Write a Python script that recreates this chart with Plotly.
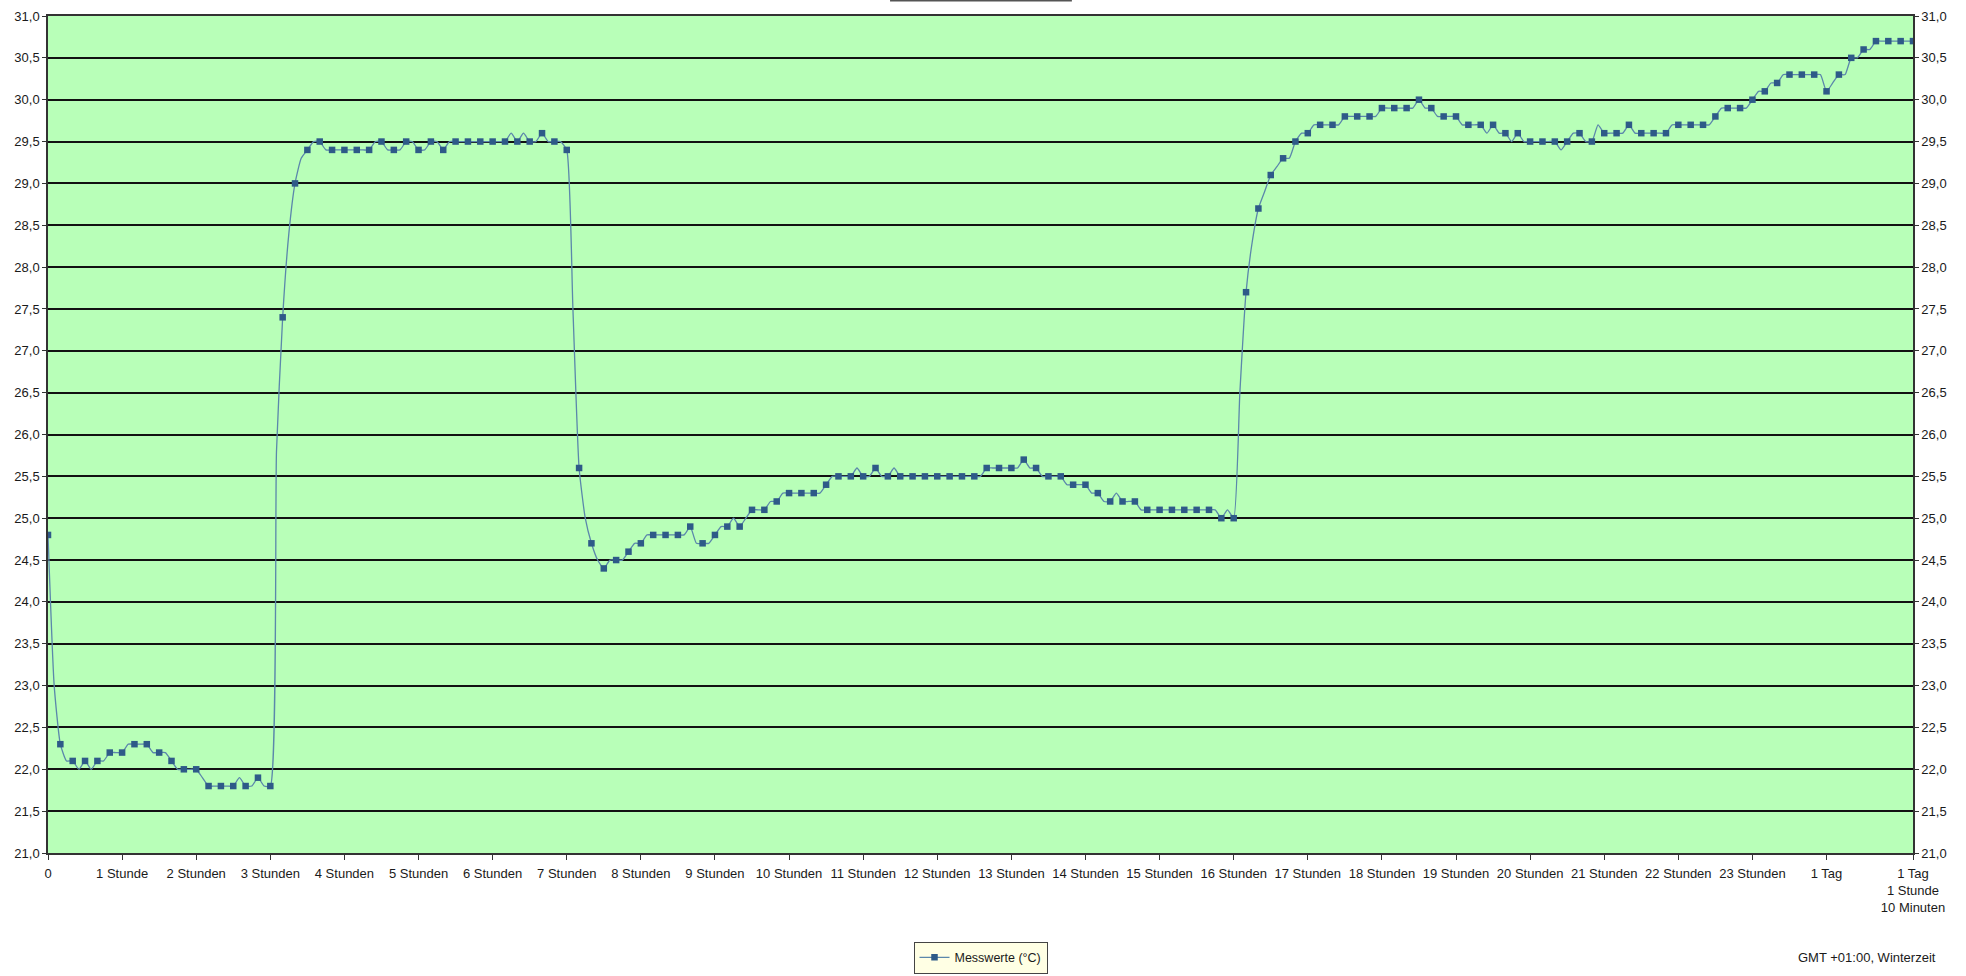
import plotly.graph_objects as go

# Sampling: one reading every 5 minutes, from 0 to 1510 minutes (1 Tag 1 Stunde 10 Minuten)
SAMPLE_STEP_MIN = 5

# Temperature readings (°C), one row per hour (12 readings of 5 minutes each)
temps_c = [
    24.8, 23.0, 22.3, 22.1, 22.1, 22.0, 22.1, 22.0, 22.1, 22.1, 22.2, 22.2,   # 0 h
    22.2, 22.3, 22.3, 22.3, 22.3, 22.2, 22.2, 22.2, 22.1, 22.0, 22.0, 22.0,   # 1 h
    22.0, 21.9, 21.8, 21.8, 21.8, 21.8, 21.8, 21.9, 21.8, 21.8, 21.9, 21.8,   # 2 h
    21.8, 25.8, 27.4, 28.4, 29.0, 29.3, 29.4, 29.5, 29.5, 29.4, 29.4, 29.4,   # 3 h
    29.4, 29.4, 29.4, 29.4, 29.4, 29.5, 29.5, 29.4, 29.4, 29.4, 29.5, 29.5,   # 4 h
    29.4, 29.4, 29.5, 29.5, 29.4, 29.5, 29.5, 29.5, 29.5, 29.5, 29.5, 29.5,   # 5 h
    29.5, 29.5, 29.5, 29.6, 29.5, 29.6, 29.5, 29.5, 29.6, 29.5, 29.5, 29.5,   # 6 h
    29.4, 27.5, 25.6, 25.0, 24.7, 24.5, 24.4, 24.5, 24.5, 24.5, 24.6, 24.7,   # 7 h
    24.7, 24.8, 24.8, 24.8, 24.8, 24.8, 24.8, 24.8, 24.9, 24.7, 24.7, 24.7,   # 8 h
    24.8, 24.9, 24.9, 25.0, 24.9, 25.0, 25.1, 25.1, 25.1, 25.2, 25.2, 25.3,   # 9 h
    25.3, 25.3, 25.3, 25.3, 25.3, 25.3, 25.4, 25.5, 25.5, 25.5, 25.5, 25.6,   # 10 h
    25.5, 25.5, 25.6, 25.5, 25.5, 25.6, 25.5, 25.5, 25.5, 25.5, 25.5, 25.5,   # 11 h
    25.5, 25.5, 25.5, 25.5, 25.5, 25.5, 25.5, 25.5, 25.6, 25.6, 25.6, 25.6,   # 12 h
    25.6, 25.6, 25.7, 25.6, 25.6, 25.5, 25.5, 25.5, 25.5, 25.4, 25.4, 25.4,   # 13 h
    25.4, 25.3, 25.3, 25.2, 25.2, 25.3, 25.2, 25.2, 25.2, 25.1, 25.1, 25.1,   # 14 h
    25.1, 25.1, 25.1, 25.1, 25.1, 25.1, 25.1, 25.1, 25.1, 25.1, 25.0, 25.1,   # 15 h
    25.0, 26.5, 27.7, 28.3, 28.7, 28.9, 29.1, 29.2, 29.3, 29.3, 29.5, 29.6,   # 16 h
    29.6, 29.7, 29.7, 29.7, 29.7, 29.7, 29.8, 29.8, 29.8, 29.8, 29.8, 29.8,   # 17 h
    29.9, 29.9, 29.9, 29.9, 29.9, 29.9, 30.0, 29.9, 29.9, 29.8, 29.8, 29.8,   # 18 h
    29.8, 29.7, 29.7, 29.7, 29.7, 29.6, 29.7, 29.6, 29.6, 29.5, 29.6, 29.5,   # 19 h
    29.5, 29.5, 29.5, 29.5, 29.5, 29.4, 29.5, 29.6, 29.6, 29.5, 29.5, 29.7,   # 20 h
    29.6, 29.6, 29.6, 29.6, 29.7, 29.6, 29.6, 29.6, 29.6, 29.6, 29.6, 29.7,   # 21 h
    29.7, 29.7, 29.7, 29.7, 29.7, 29.7, 29.8, 29.9, 29.9, 29.9, 29.9, 29.9,   # 22 h
    30.0, 30.1, 30.1, 30.2, 30.2, 30.3, 30.3, 30.3, 30.3, 30.3, 30.3, 30.3,   # 23 h
    30.1, 30.2, 30.3, 30.3, 30.5, 30.5, 30.6, 30.6, 30.7, 30.7, 30.7, 30.7,   # 24 h
    30.7, 30.7, 30.7,                                                         # 25 h
]
minutes = [i * SAMPLE_STEP_MIN for i in range(len(temps_c))]

# Markers are drawn every second reading (every 10 minutes)
marker_minutes = minutes[::2]
marker_temps = temps_c[::2]

tick_minutes = [0, 60, 120, 180, 240, 300, 360, 420, 480, 540, 600, 660, 720, 780,
                840, 900, 960, 1020, 1080, 1140, 1200, 1260, 1320, 1380, 1440, 1510]
tick_labels = ["0", "1 Stunde"] + [f"{h} Stunden" for h in range(2, 24)] + \
              ["1 Tag", "1 Tag<br>1 Stunde<br>10 Minuten"]

series_name = "Messwerte (°C)"
footer_text = "GMT +01:00, Winterzeit"

LINE_COLOR = "#5b87ab"
MARK_COLOR = "#2e5a88"
FONT = "Liberation Sans, Arial, sans-serif"
TXT = "#1a1a1a"
FS = 12.5

fig = go.Figure()
fig.add_trace(go.Scatter(
    x=minutes, y=temps_c, mode="lines",
    line=dict(color=LINE_COLOR, width=1.3, shape="spline", smoothing=0.5),
    showlegend=False, hoverinfo="skip"))
fig.add_trace(go.Scatter(
    x=marker_minutes, y=marker_temps, mode="markers",
    marker=dict(symbol="square", size=6.5, color=MARK_COLOR, line=dict(width=0)),
    showlegend=False))
# legend entry
fig.add_trace(go.Scatter(
    x=[None], y=[None], mode="lines+markers", name=series_name,
    line=dict(color=LINE_COLOR, width=1.3),
    marker=dict(symbol="square", size=6.5, color=MARK_COLOR)))
# right-hand axis carrier
fig.add_trace(go.Scatter(x=[None], y=[None], yaxis="y2", showlegend=False,
                         hoverinfo="skip"))

yax = dict(range=[21, 31], dtick=0.5, tick0=21, tickformat=".1f",
           showgrid=True, gridcolor="#111111", gridwidth=1.5,
           zeroline=False, ticks="outside", ticklen=4, tickcolor="#333",
           showline=True, linecolor="#333", linewidth=1.5, automargin=False,
           tickfont=dict(family=FONT, size=FS + 0.5, color=TXT))

fig.update_layout(
    width=1966, height=976,
    margin=dict(l=48, r=53, t=16, b=123, autoexpand=False),
    paper_bgcolor="white", plot_bgcolor="#b8ffb8",
    separators=",.",
    font=dict(family=FONT, size=FS, color=TXT),
    xaxis=dict(range=[0, 1510], tickvals=tick_minutes, ticktext=tick_labels,
               showgrid=False, zeroline=False, ticks="outside", ticklen=5,
               tickcolor="#333", showline=True, linecolor="#333", linewidth=1.5,
               mirror=True, tickangle=0, ticklabelstandoff=3, automargin=False,
               tickfont=dict(family=FONT, size=FS + 0.5, color=TXT)),
    yaxis=yax,
    yaxis2=dict(yax, overlaying="y", side="right", showgrid=False),
    legend=dict(x=0.5, y=-0.106, xanchor="center", yanchor="top",
                bgcolor="#ffffe4", bordercolor="#444", borderwidth=1,
                font=dict(family=FONT, size=FS, color=TXT)),
    annotations=[dict(text=footer_text, xref="paper", yref="paper",
                      x=1.0134, y=-0.125, xanchor="right", yanchor="middle",
                      showarrow=False, font=dict(family=FONT, size=FS + 0.5, color=TXT))],
    shapes=[dict(type="line", xref="paper", yref="paper",
                 x0=0.4515, x1=0.549, y0=1.0185, y1=1.0185,
                 line=dict(color="#555", width=2))],
)

fig.write_html("out.html", config={"displayModeBar": False},
               post_script="document.body.style.margin='0';document.body.style.overflow='hidden';")
